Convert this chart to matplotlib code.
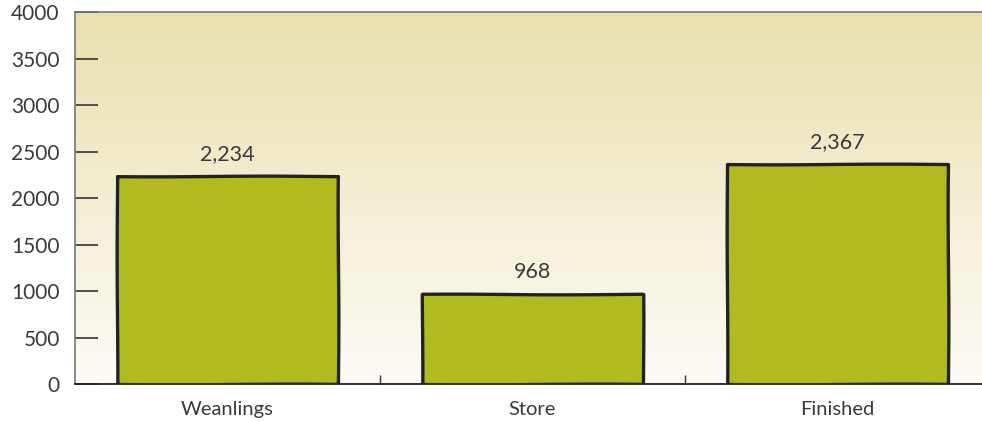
import numpy as np
import matplotlib.pyplot as plt
from matplotlib.colors import LinearSegmentedColormap

categories = ['Weanlings', 'Store', 'Finished']
values = [2234, 968, 2367]
yticks = [0, 500, 1000, 1500, 2000, 2500, 3000, 3500, 4000]

plt.rcParams['font.family'] = ['Lato', 'DejaVu Sans']
text_col = '#3a3a3a'

fig = plt.figure(figsize=(9.82, 4.21), dpi=100)
ax = fig.add_axes([75 / 982, 37 / 421, 915 / 982, 372 / 421])

# background gradient
cmap = LinearSegmentedColormap.from_list('bg', ['#fdfbf6', '#f3eed3', '#e8e0ad'])
grad = np.linspace(0, 1, 256).reshape(-1, 1)
ax.imshow(grad, aspect='auto', cmap=cmap, origin='lower',
          extent=[-0.5, 2.5, 0, 4000], zorder=0)

x = np.arange(len(categories))
bars = ax.bar(x, values, width=0.725, color='#b1ba1f', edgecolor='#222222',
              linewidth=2.4, zorder=2)
for b in bars:
    b.set_sketch_params(0.35, 250, 2)
    b.set_joinstyle('round')

for xi, v in zip(x, values):
    ax.text(xi, v + 130, f'{v:,}', ha='center', va='bottom', fontsize=15.5,
            color=text_col, zorder=3)

ax.set_xlim(-0.5, 2.5)
ax.set_ylim(0, 4000)
ax.set_yticks(yticks)
ax.set_yticklabels([str(t) for t in yticks], fontsize=15, color=text_col)
ax.set_xticks(x)
ax.set_xticklabels(categories, fontsize=14.5, color=text_col)
ax.set_xticks([0.5, 1.5], minor=True)

ax.tick_params(axis='y', direction='in', length=16.5, width=1.2, color='#333333', pad=11)
ax.tick_params(axis='x', which='major', length=0, pad=12)
ax.tick_params(axis='x', which='minor', direction='in', length=6.5, width=1.0, color='#333333')

for side in ['left', 'top']:
    ax.spines[side].set_color('#777777')
    ax.spines[side].set_linewidth(1.2)
ax.spines['bottom'].set_color('#222222')
ax.spines['bottom'].set_linewidth(1.3)
ax.spines['right'].set_visible(False)

fig.savefig('out.png', dpi=100)
